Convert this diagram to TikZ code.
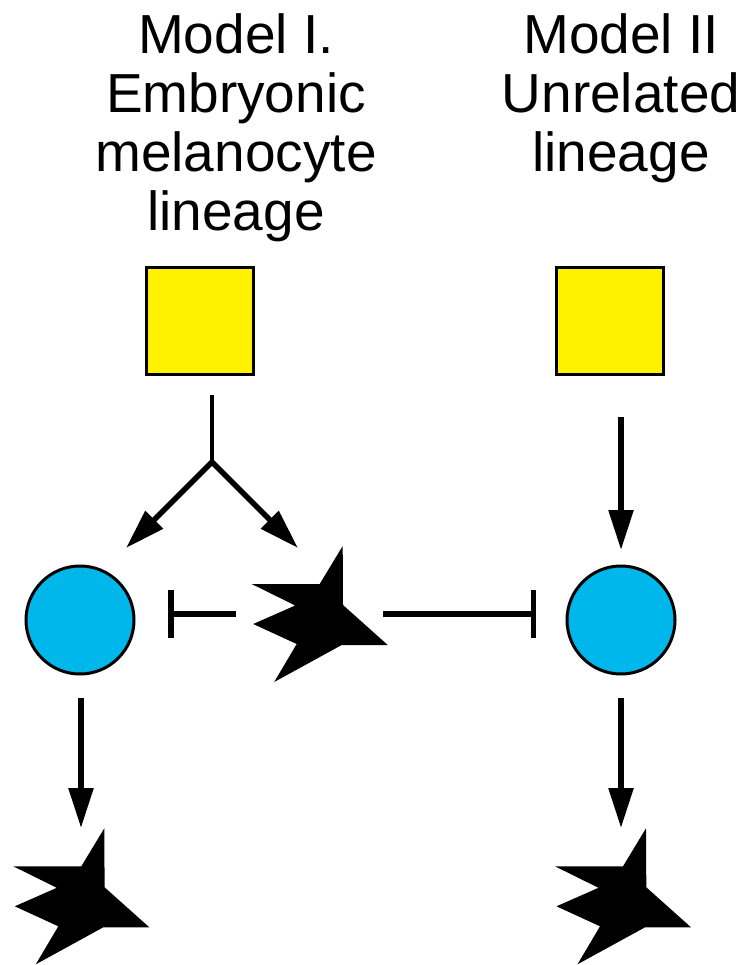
\documentclass[tikz,border=0pt]{standalone}
\usepackage{fontspec}
\setmainfont{Liberation Sans}
\usetikzlibrary{arrows.meta}
\definecolor{cellcyan}{RGB}{0,183,235}
\definecolor{cellyellow}{RGB}{255,242,0}
\tikzset{
  titletext/.style={align=center,inner sep=0pt,anchor=base,font=\fontsize{55}{59}\selectfont},
  progenitor/.style={draw=black,line width=3pt,fill=cellyellow,minimum size=107pt,inner sep=0pt},
  precursor/.style={circle,draw=black,line width=3pt,fill=cellcyan,minimum size=108pt,inner sep=0pt},
  conn/.style={line width=5.5pt},
  activ/.style={conn,-{Triangle[length=40pt,width=24pt]}},
  inhib/.style={conn,-{Bar[width=48pt]}},
  melcell/.pic={\fill[black] (0,0) -- (-23,38) -- (-91,38) -- (-47.5,59.5) -- (-89.5,78) -- (-46,98) -- (-68.5,136) -- (-1,99) -- (45,99) -- (0.3,59) -- cycle;}
}
\begin{document}
\begin{tikzpicture}[x=1pt,y=-1pt]
\useasboundingbox (0,0) rectangle (750,965);
% titles (anchor=base is the baseline of the last line)
\node[titletext] (t1) at (236,231) {Model I.\\Embryonic\\melanocyte\\lineage};
\node[titletext] (t2) at (621,172) {Model II\\Unrelated\\lineage};
% progenitors
\node[progenitor] (sqL) at (200,321) {};
\node[progenitor] (sqR) at (610,321) {};
% precursors
\node[precursor] (cL) at (80,620) {};
\node[precursor] (cR) at (621,620) {};
% melanocytes
\pic (mM) at (342.7,546) {melcell};
\pic (mL) at (104.3,828.3) {melcell};
\pic (mR) at (646,828.3) {melcell};
% coordinates for connector ends
\coordinate (brTop) at (212,395);
\coordinate (brJ) at (212,462);
\coordinate (brL) at (126,548);
\coordinate (brR) at (298,548);
\coordinate (rTop) at (621,417);
\coordinate (rTip) at (621,550);
\coordinate (dLs) at (81,698);
\coordinate (dLe) at (81,828);
\coordinate (dRs) at (621,698);
\coordinate (dRe) at (621,828);
\coordinate (iLs) at (236,614);
\coordinate (iLe) at (168,614);
\coordinate (iRs) at (383,614);
\coordinate (iRe) at (536,614);
% connectors
\draw[conn,line width=4.5pt] (brTop) -- (brJ);
\draw[conn,{Triangle[length=40pt,width=24pt]}-{Triangle[length=40pt,width=24pt]}] (brL) -- (brJ) -- (brR);
\draw[activ] (rTop) -- (rTip);
\draw[activ] (dLs) -- (dLe);
\draw[activ] (dRs) -- (dRe);
\draw[inhib] (iLs) -- (iLe);
\draw[inhib] (iRs) -- (iRe);
\end{tikzpicture}
\end{document}
